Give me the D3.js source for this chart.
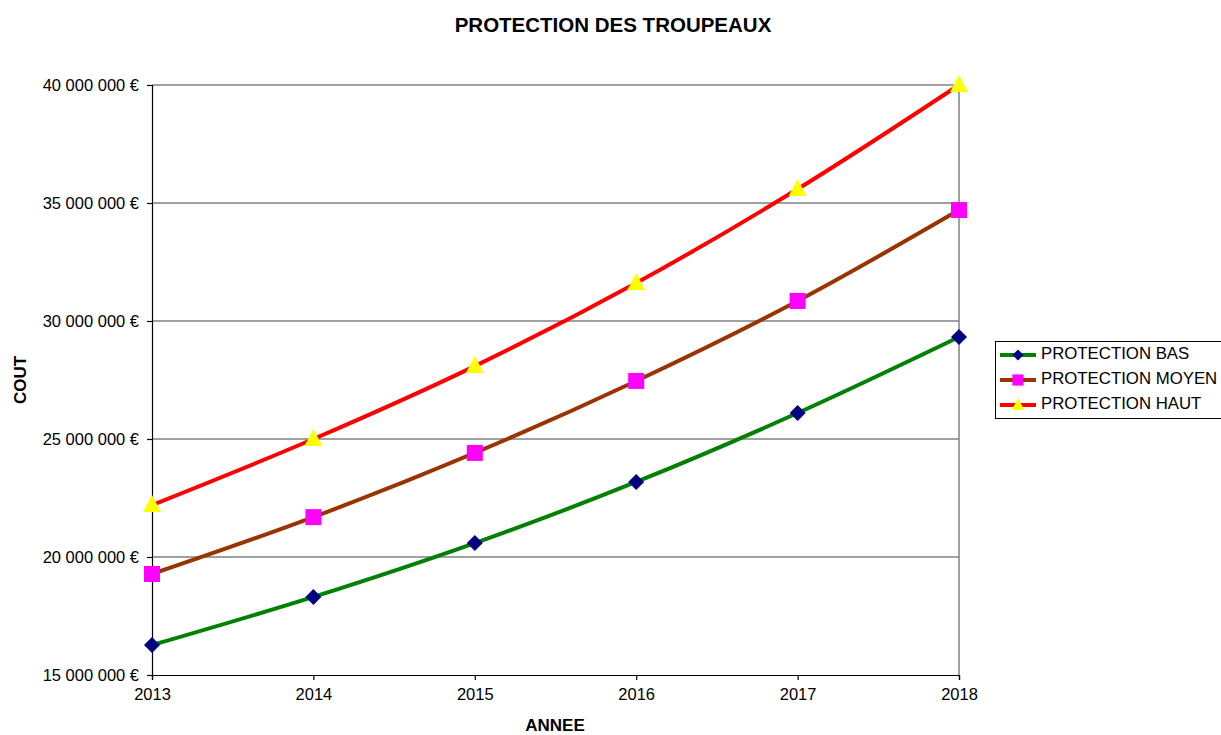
<!DOCTYPE html>
<html>
<head>
<meta charset="utf-8">
<script src="https://cdn.jsdelivr.net/npm/d3@7"></script>
<style>
  body { margin: 0; background: #fff; }
  svg text { font-family: "Liberation Sans", Arial, sans-serif; fill: #000; }
</style>
</head>
<body>
<svg id="chart" width="1221" height="735"></svg>
<script>
// chart data
const years = [2013, 2014, 2015, 2016, 2017, 2018];
const yTicks = [15000000, 20000000, 25000000, 30000000, 35000000, 40000000];
const bas = [16270000, 18310000, 20590000, 23180000, 26100000, 29320000];
const moyen = [19280000, 21690000, 24410000, 27460000, 30850000, 34700000];
const haut = [22200000, 25000000, 28090000, 31610000, 35590000, 40000000];

const series = [
  { name: "PROTECTION BAS", values: bas, line: "#008000", marker: "diamond", fill: "#000080" },
  { name: "PROTECTION MOYEN", values: moyen, line: "#993300", marker: "square", fill: "#FF00FF" },
  { name: "PROTECTION HAUT", values: haut, line: "#FF0000", marker: "triangle", fill: "#FFFF00" }
];

const margin = { top: 85, left: 152, right: 262, bottom: 60 };
const width = 1221, height = 735;

const svg = d3.select("#chart");

const x = d3.scaleLinear()
  .domain([2013, 2018])
  .range([margin.left, width - margin.right]);

const y = d3.scaleLinear()
  .domain([15000000, 40000000])
  .range([height - margin.bottom, margin.top]);

const fmt = v => d3.format(",")(v).replace(/,/g, " ") + " €";

// grid lines
svg.append("g")
  .selectAll("line")
  .data(yTicks.slice(1))
  .enter()
    .append("line")
    .attr("x1", x(2013))
    .attr("x2", x(2018))
    .attr("y1", d => y(d))
    .attr("y2", d => y(d))
    .attr("stroke", "#808080")
    .attr("stroke-width", 1.5);

// right border of plot area
svg.append("line")
  .attr("x1", x(2018)).attr("x2", x(2018))
  .attr("y1", y(40000000)).attr("y2", y(15000000))
  .attr("stroke", "#808080")
  .attr("stroke-width", 1.5);

// y axis
const yAxis = svg.append("g")
  .attr("transform", `translate(${x(2013)},0)`)
  .call(d3.axisLeft(y).tickValues(yTicks).tickFormat(fmt).tickSize(5).tickPadding(8));
yAxis.selectAll("text").style("font-size", "16.5px");
yAxis.selectAll("line, path").attr("stroke", "#000").attr("stroke-width", 1.2);

// x axis
const xAxis = svg.append("g")
  .attr("transform", `translate(0,${y(15000000)})`)
  .call(d3.axisBottom(x).tickValues(years).tickFormat(d3.format("d")).tickSize(5).tickPadding(8));
xAxis.selectAll("text").style("font-size", "16.5px");
xAxis.selectAll("line, path").attr("stroke", "#000").attr("stroke-width", 1.2);

// lines
const line = d3.line()
  .x((d, i) => x(years[i]))
  .y(d => y(d))
  .curve(d3.curveCatmullRom.alpha(0.5));

function markerPath(type) {
  if (type === "diamond") return "M0,-8L8,0L0,8L-8,0Z";
  if (type === "square") return "M-8,-8H8V8H-8Z";
  return "M0,-10L9,7H-9Z";
}

series.forEach(s => {
  svg.append("path")
    .datum(s.values)
    .attr("fill", "none")
    .attr("stroke", s.line)
    .attr("stroke-width", 4)
    .attr("d", line);
});

series.forEach(s => {
  svg.append("g")
    .selectAll("path")
    .data(s.values)
    .enter()
      .append("path")
      .attr("d", markerPath(s.marker))
      .attr("transform", (d, i) => `translate(${x(years[i])},${y(d)})`)
      .attr("fill", s.fill);
});

// title and axis titles
svg.append("text")
  .text("PROTECTION DES TROUPEAUX")
  .attr("x", 613).attr("y", 32)
  .attr("text-anchor", "middle")
  .style("font-size", "20.5px").style("font-weight", "bold");

svg.append("text")
  .text("COUT")
  .attr("transform", "translate(26,380) rotate(-90)")
  .attr("text-anchor", "middle")
  .style("font-size", "17px").style("font-weight", "bold");

svg.append("text")
  .text("ANNEE")
  .attr("x", 555).attr("y", 731)
  .attr("text-anchor", "middle")
  .style("font-size", "17px").style("font-weight", "bold");

// legend
const legend = svg.append("g");
legend.append("rect")
  .attr("x", 995.5).attr("y", 341.5)
  .attr("width", 240).attr("height", 77)
  .attr("fill", "#fff")
  .attr("stroke", "#000").attr("stroke-width", 1);

series.forEach((s, i) => {
  const ly = 355 + i * 25;
  legend.append("line")
    .attr("x1", 1000).attr("x2", 1036)
    .attr("y1", ly).attr("y2", ly)
    .attr("stroke", s.line).attr("stroke-width", 4);
  legend.append("path")
    .attr("d", markerPath(s.marker))
    .attr("transform", `translate(1018,${ly}) scale(0.7)`)
    .attr("fill", s.fill);
  legend.append("text")
    .text(s.name)
    .attr("x", 1041).attr("y", ly)
    .attr("dominant-baseline", "middle")
    .style("font-size", "16.8px");
});
</script>
</body>
</html>
